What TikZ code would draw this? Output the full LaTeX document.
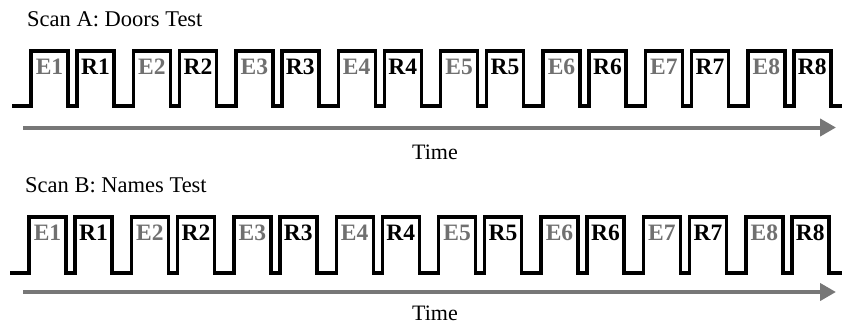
\documentclass[tikz,border=0pt]{standalone}
\usepackage{fontspec}
\setmainfont{Liberation Serif}
\usetikzlibrary{arrows.meta}
\definecolor{egray}{HTML}{707070}
\definecolor{agray}{HTML}{777777}
\tikzset{
  wave/.style={line width=3.4pt, line join=miter, draw=black},
  timearrow/.style={line width=4pt, draw=agray, -{Triangle[length=16pt,width=17pt]}},
  lbl/.style={inner sep=0pt, anchor=base, font=\fontsize{23.5}{27}\selectfont\bfseries},
  elbl/.style={lbl, text=egray},
  rlbl/.style={lbl, text=black},
  ttl/.style={inner sep=0pt, anchor=base west, font=\fontsize{22.5}{27}\selectfont},
  tme/.style={inner sep=0pt, anchor=base, font=\fontsize{22}{26}\selectfont},
}
\begin{document}
\begin{tikzpicture}[x=1pt,y=-1pt]
\useasboundingbox (0,0) rectangle (842,325);
% scan parameters: name / x-start / first-rise / top / base / arrow y / time baseline / title baseline / title x / title
\foreach \s/\xs/\xo/\top/\bas/\ay/\tb/\hb/\hx/\ttext in {
  A/12/31/51/106/127.5/159/26/27/{Scan A: Doors Test},
  B/10/29/217/273/292/320/192/25/{Scan B: Names Test}}{
  \node[ttl] (title\s) at (\hx,\hb) {\ttext};
  \draw[wave] (\xs,\bas)
    \foreach \k in {0,...,7}{
      -- ({\xo+102.4*\k},\bas) -- ({\xo+102.4*\k},\top)
      -- ({\xo+37+102.4*\k},\top) -- ({\xo+37+102.4*\k},\bas)
      -- ({\xo+46+102.4*\k},\bas) -- ({\xo+46+102.4*\k},\top)
      -- ({\xo+83+102.4*\k},\top) -- ({\xo+83+102.4*\k},\bas)
    } -- (842,\bas);
  \foreach \k [evaluate=\k as \n using int(\k+1)] in {0,...,7}{
    \node[elbl] (e\n\s) at ({\xo+18.5+102.4*\k},{\top+23.5}) {E\n};
    \node[rlbl] (r\n\s) at ({\xo+64.5+102.4*\k},{\top+23.5}) {R\n};
  }
  \coordinate (astart\s) at (23,\ay);
  \coordinate (aend\s) at (836,\ay);
  \draw[timearrow] (astart\s) -- (aend\s);
  \node[tme] (time\s) at (435,\tb) {Time};
}
\end{tikzpicture}
\end{document}
